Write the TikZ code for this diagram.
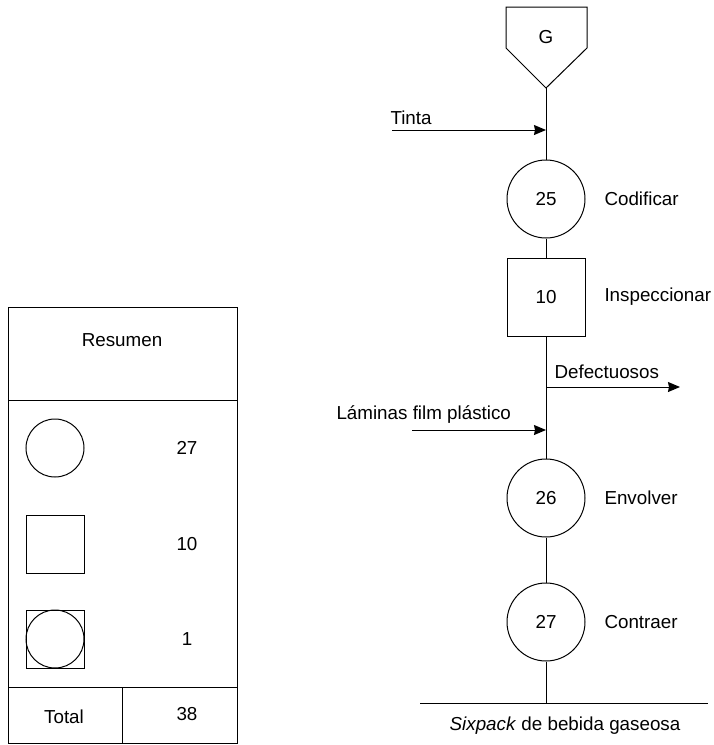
\documentclass[tikz,border=0pt]{standalone}
\usepackage{fontspec}
\setmainfont{Liberation Sans}
\usepackage{tikz}
\usetikzlibrary{arrows.meta,positioning}

\tikzset{
    op/.style={draw, circle, minimum size=78pt, inner sep=0pt},
    insp/.style={draw, rectangle, minimum size=78pt, inner sep=0pt},
    lbl/.style={anchor=west, inner sep=0pt},
    flecha/.style={-{Stealth[length=12pt,width=10pt,inset=1pt]}},
}

\begin{document}
\begin{tikzpicture}[x=1pt, y=-1pt, line width=1pt, font=\fontsize{18.8}{22}\selectfont]
    \useasboundingbox (0,0) rectangle (713,745);
    % diagrama de proceso
    \draw (506,7) -- (587,7) -- (587,48) -- (546,88) -- (506,48) -- cycle;
    \node (G) at (546,37) {G};
    \coordinate (Gtip) at (546,88);
    \node[op] (c25) at (546,199) {25};
    \node[insp] (s10) at (546,297) {10};
    \node[op] (c26) at (546,498) {26};
    \node[op] (c27) at (546,622) {27};
    \node[lbl] at (604,199) {Codificar};
    \node[lbl] at (604,297) {Inspeccionar};
    \node[lbl] at (604,498) {Envolver};
    \node[lbl] at (604,622) {Contraer};
    \draw (Gtip) -- (c25) -- (s10) -- (c26) -- (c27);
    % entradas y salidas
    \coordinate (tinta) at (546,130);
    \coordinate (lam) at (546,430);
    \coordinate (def) at (546,387);
    \draw[flecha] (392,130) -- (tinta);
    \node[lbl] at (390,118) {Tinta};
    \draw[flecha] (412,430) -- (lam);
    \node[lbl] at (336,415) {Láminas film plástico};
    \draw[flecha] (def) -- (680,387);
    \node[lbl] at (554,372) {Defectuosos};
    \coordinate (fin) at (546,703);
    \draw (c27) -- (fin);
    \draw (420,703) -- (708,703);
    \node at (565,726) {\textit{Sixpack} de bebida gaseosa};
    % resumen
    \draw (8,307) rectangle (237,743);
    \draw (8,400) -- (237,400);
    \draw (8,687) -- (237,687);
    \draw (122,687) -- (122,743);
    \node (res) at (122,340) {Resumen};
    \node[draw, circle, minimum size=58pt, inner sep=0pt] (r1) at (55,448) {};
    \node[draw, rectangle, minimum size=58pt, inner sep=0pt] (r2) at (55,544) {};
    \node[draw, rectangle, minimum size=58pt, inner sep=0pt] (r3) at (55,639) {};
    \node[draw, circle, minimum size=58pt, inner sep=0pt] at (r3) {};
    \node at (187,448) {27};
    \node at (187,544) {10};
    \node at (187,639) {1};
    \node at (64,717) {Total};
    \node at (187,714) {38};
\end{tikzpicture}
\end{document}
